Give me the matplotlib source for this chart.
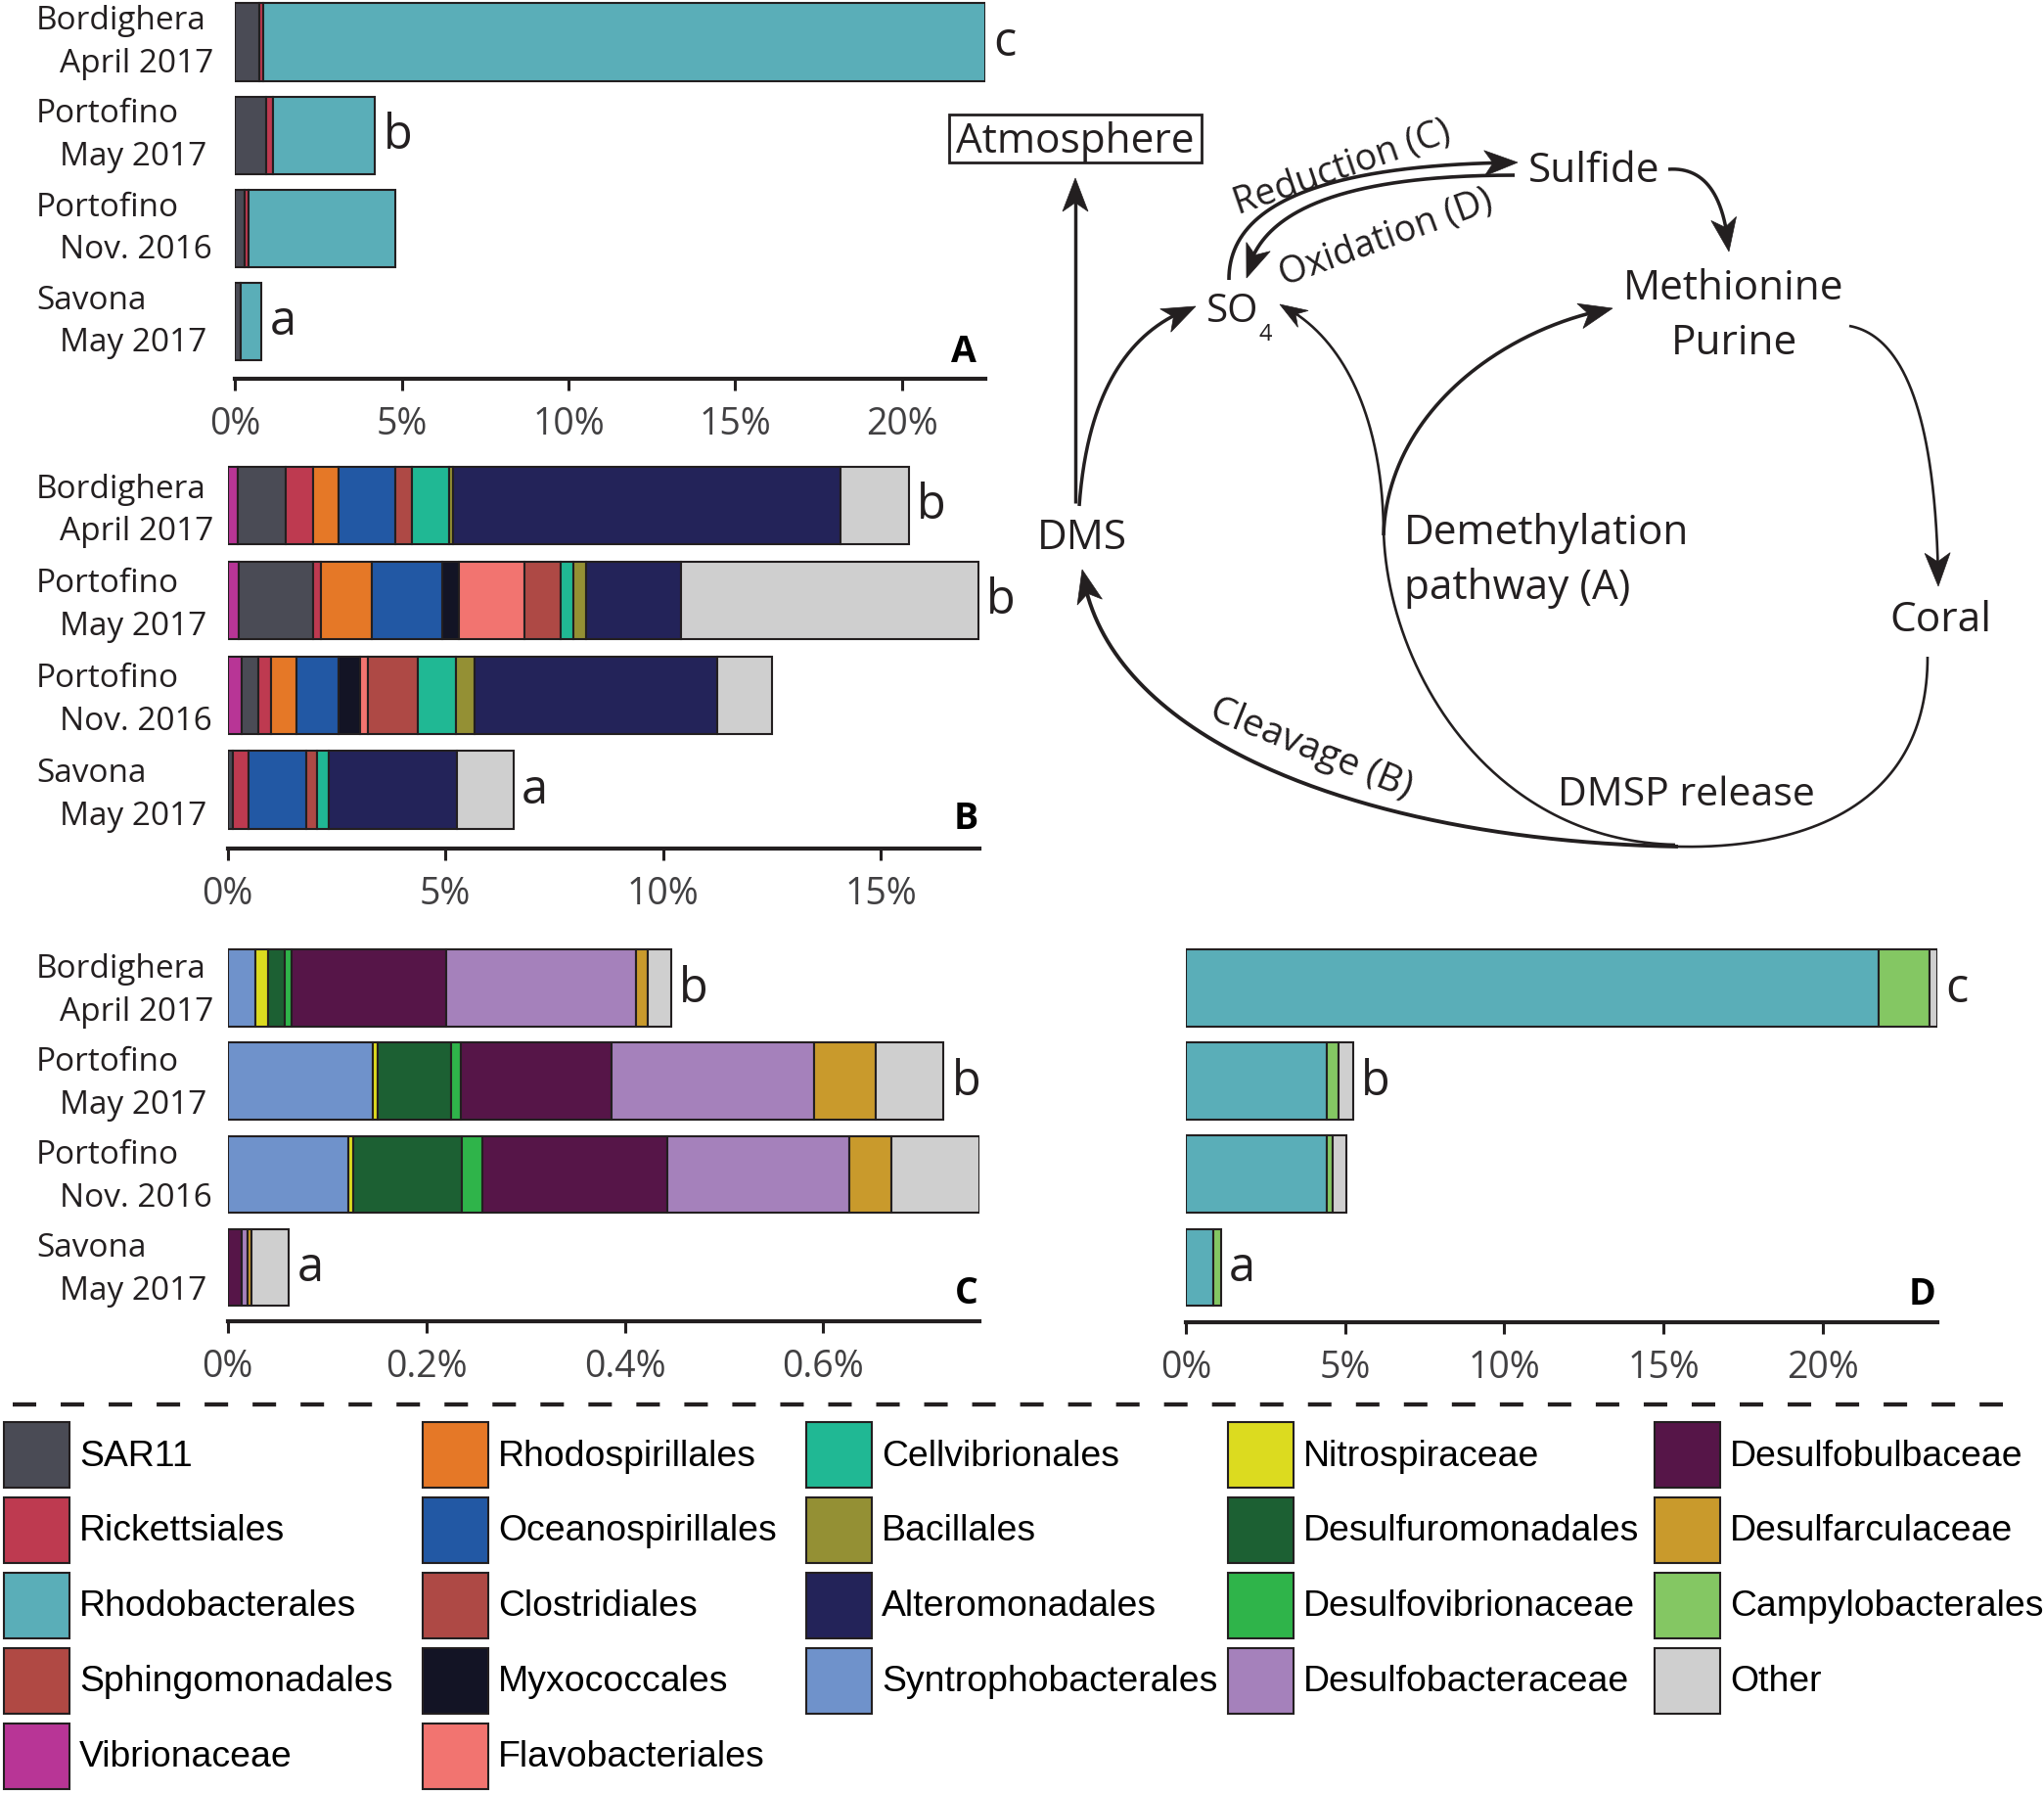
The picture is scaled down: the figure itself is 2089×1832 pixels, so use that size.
import numpy as np
import matplotlib
matplotlib.use('Agg')
import matplotlib.pyplot as plt
from matplotlib.patches import Rectangle, Polygon

W, H = 2089, 1833
K = '#231f20'
plt.rcParams['font.family'] = ['Open Sans', 'DejaVu Sans']
plt.rcParams['lines.scale_dashes'] = False

sites = ['Bordighera', 'Portofino', 'Portofino', 'Savona']
dates = ['April 2017', 'May 2017', 'Nov. 2016', 'May 2017']

colors = {
    'SAR11': '#4a4b55', 'Rickettsiales': '#be3a50', 'Rhodobacterales': '#5aaeb8',
    'Sphingomonadales': '#b04944', 'Vibrionaceae': '#b83596',
    'Rhodospirillales': '#e57827', 'Oceanospirillales': '#2258a4',
    'Clostridiales': '#ae4945', 'Myxococcales': '#131425', 'Flavobacteriales': '#f27470',
    'Cellvibrionales': '#20b894', 'Bacillales': '#949034', 'Alteromonadales': '#232359',
    'Syntrophobacterales': '#6f92cb', 'Nitrospiraceae': '#dcdb1f',
    'Desulfuromonadales': '#1c6033', 'Desulfovibrionaceae': '#2fb44a',
    'Desulfobacteraceae': '#a581bb', 'Desulfobulbaceae': '#561548',
    'Desulfarculaceae': '#c99a2c', 'Campylobacterales': '#84c763', 'Other': '#cfcfcf',
}

# A - demethylation pathway (% of reads)
a_taxa = ['SAR11', 'Rickettsiales', 'Rhodobacterales']
a_vals = [[0.72, 0.13, 21.65],
          [0.94, 0.20, 3.05],
          [0.27, 0.13, 4.39],
          [0.15, 0.00, 0.63]]
a_sig = ['c', 'b', '', 'a']

# B - cleavage pathway
b_taxa = ['Vibrionaceae', 'SAR11', 'Rickettsiales', 'Rhodospirillales', 'Oceanospirillales',
          'Myxococcales', 'Flavobacteriales', 'Clostridiales', 'Cellvibrionales',
          'Bacillales', 'Alteromonadales', 'Other']
b_vals = [[0.23, 1.10, 0.63, 0.59, 1.31, 0.00, 0.00, 0.37, 0.86, 0.09, 8.89, 1.58],
          [0.26, 1.69, 0.20, 1.17, 1.60, 0.38, 1.51, 0.83, 0.29, 0.31, 2.18, 6.82],
          [0.31, 0.40, 0.29, 0.57, 0.97, 0.49, 0.19, 1.14, 0.88, 0.42, 5.58, 1.27],
          [0.00, 0.11, 0.37, 0.00, 1.32, 0.00, 0.00, 0.25, 0.26, 0.00, 2.95, 1.30]]
b_sig = ['b', 'b', '', 'a']

# C - sulfate reduction
c_taxa = ['Syntrophobacterales', 'Nitrospiraceae', 'Desulfuromonadales', 'Desulfovibrionaceae',
          'Desulfobulbaceae', 'Desulfobacteraceae', 'Desulfarculaceae', 'Other']
c_vals = [[0.0277, 0.0125, 0.0176, 0.0061, 0.1564, 0.1912, 0.0120, 0.0232],
          [0.1464, 0.0050, 0.0735, 0.0100, 0.1514, 0.2042, 0.0624, 0.0684],
          [0.1212, 0.0056, 0.1086, 0.0211, 0.1867, 0.1831, 0.0422, 0.0885],
          [0.0, 0.0, 0.0, 0.0, 0.0141, 0.0055, 0.0040, 0.0378]]
c_sig = ['b', 'b', '', 'a']

# D - sulfide oxidation
d_taxa = ['Rhodobacterales', 'Campylobacterales', 'Other']
d_vals = [[21.74, 1.60, 0.25],
          [4.44, 0.37, 0.44],
          [4.42, 0.19, 0.44],
          [0.85, 0.25, 0.00]]
d_sig = ['c', 'b', '', 'a']

legend_cols = [
    ['SAR11', 'Rickettsiales', 'Rhodobacterales', 'Sphingomonadales', 'Vibrionaceae'],
    ['Rhodospirillales', 'Oceanospirillales', 'Clostridiales', 'Myxococcales', 'Flavobacteriales'],
    ['Cellvibrionales', 'Bacillales', 'Alteromonadales', 'Syntrophobacterales'],
    ['Nitrospiraceae', 'Desulfuromonadales', 'Desulfovibrionaceae', 'Desulfobacteraceae'],
    ['Desulfobulbaceae', 'Desulfarculaceae', 'Campylobacterales', 'Other'],
]

fig = plt.figure(figsize=(W / 100, H / 100), dpi=100)


def panel(px, ylim, bh, taxa, vals, sig, xmax, ticks, tlabels, names=True, shift=0):
    l, t, r, b = px
    ax = fig.add_axes([l / W, 1 - b / H, (r - l) / W, (b - t) / H])
    for i, row in enumerate(vals):
        left = 0
        for name, v in zip(taxa, row):
            if v > 0:
                ax.barh(i, v, left=left, height=bh, color=colors[name],
                        edgecolor=K, linewidth=1.5)
            left += v
        if sig[i]:
            ax.annotate(sig[i], xy=(left, i), xytext=(6, 0), textcoords='offset points',
                        ha='left', va='center', fontsize=35, color=K)
        if names:
            ax.annotate(sites[i], xy=(37, i), xycoords=('figure pixels', 'data'),
                        xytext=(0, 10 - shift), textcoords='offset points',
                        ha='left', va='baseline', fontsize=24, color=K)
            ax.annotate(dates[i], xy=(61, i), xycoords=('figure pixels', 'data'),
                        xytext=(0, -21.5 - shift), textcoords='offset points',
                        ha='left', va='baseline', fontsize=24, color=K)
    ax.set_xlim(0, xmax)
    ax.set_ylim(*ylim)
    for s in ['left', 'right', 'top']:
        ax.spines[s].set_visible(False)
    ax.spines['bottom'].set_linewidth(3)
    ax.spines['bottom'].set_color(K)
    ax.set_yticks([])
    ax.set_xticks(ticks)
    ax.set_xticklabels(tlabels)
    ax.tick_params(axis='x', direction='out', length=8.6, width=2.2, color=K,
                   pad=10.5, labelsize=27, labelcolor='#414042')
    ax.patch.set_visible(False)
    return ax


panel((240.4, 0, 1007, 388), (3.613, -0.462), 0.83, a_taxa, a_vals, a_sig, 22.5,
      [0, 5, 10, 15, 20], ['0%', '5%', '10%', '15%', '20%'])
panel((232.8, 473, 1001.4, 868), (3.62, -0.462), 0.817, b_taxa, b_vals, b_sig, 17.28,
      [0, 5, 10, 15], ['0%', '5%', '10%', '15%'], shift=3.5)
panel((232.8, 967, 1000.6, 1351), (3.579, -0.462), 0.83, c_taxa, c_vals, c_sig, 0.757,
      [0, 0.2, 0.4, 0.6], ['0%', '0.2%', '0.4%', '0.6%'], shift=1.5)
panel((1211.9, 967, 1979.8, 1352), (3.59, -0.462), 0.83, d_taxa, d_vals, d_sig, 23.59,
      [0, 5, 10, 15, 20], ['0%', '5%', '10%', '15%', '20%'], names=False)

# overlay in pixel coordinates for the diagram, panel letters and legend
ov = fig.add_axes([0, 0, 1, 1])
ov.set_xlim(0, W)
ov.set_ylim(H, 0)
ov.axis('off')

for txt, x, y in [('A', 998, 370), ('B', 1000, 847), ('C', 1000, 1332), ('D', 1978, 1333)]:
    ov.text(x, y, txt, ha='right', va='baseline', fontsize=27, fontweight='bold', color='black')


def bez(p, n=150):
    p = np.asarray(p, float)
    t = np.linspace(0, 1, n)[:, None]
    if len(p) == 3:
        return (1 - t) ** 2 * p[0] + 2 * (1 - t) * t * p[1] + t ** 2 * p[2]
    return ((1 - t) ** 3 * p[0] + 3 * (1 - t) ** 2 * t * p[1]
            + 3 * (1 - t) * t ** 2 * p[2] + t ** 3 * p[3])


def curve(segs, lw=2.5, head=True, L=34, hw=13):
    pts = np.vstack([bez(s) for s in segs])
    if head:
        tip = pts[-1]
        d = np.hypot(pts[:, 0] - tip[0], pts[:, 1] - tip[1])
        back = pts[d >= L][-1]
        u = (tip - back) / np.hypot(*(tip - back))
        nrm = np.array([-u[1], u[0]])
        base = tip - L * u
        ov.add_patch(Polygon([tip, base + hw * nrm, tip - (L - 9) * u, base - hw * nrm],
                             closed=True, fc=K, ec=K, lw=0.5))
        pts = pts[d >= L * 0.5]
    ov.plot(pts[:, 0], pts[:, 1], color=K, lw=lw, solid_capstyle='butt')


def label(x, y, s, fs=30.5, **kw):
    ov.text(x, y, s, ha=kw.pop('ha', 'center'), va=kw.pop('va', 'center'),
            fontsize=fs, color=K, **kw)


# Atmosphere box
ov.add_patch(Rectangle((970, 118), 258, 49, fill=False, ec=K, lw=2))
label(1099, 145, 'Atmosphere')
curve([[(1099, 515), (1099, 350), (1099, 183)]])
label(1106, 550, 'DMS')
label(1260, 319, 'SO', fs=29)
label(1293, 342, '4', fs=17)
label(1629, 175, 'Sulfide')
label(1772, 295, 'Methionine')
label(1772, 351, 'Purine')
label(1435, 556, 'Demethylation', ha='left', va='baseline')
label(1435, 612, 'pathway (A)', ha='left', va='baseline')
label(1983, 634, 'Coral')
label(1723, 813, 'DMSP release', fs=29.5)
label(1372, 172, 'Reduction (C)', fs=27, rotation=19, rotation_mode='anchor')
label(1416, 243, 'Oxidation (D)', fs=27, rotation=20, rotation_mode='anchor')
label(1340, 766, 'Cleavage (B)', fs=28, rotation=-22, rotation_mode='anchor')

# DMS -> SO4
curve([[(1103, 518), (1115, 350), (1222, 314)]])
# SO4 -> Sulfide (reduction) and back (oxidation)
curve([[(1256, 287), (1255, 170), (1551, 167)]], lw=2.6)
curve([[(1548, 180), (1290, 180), (1274, 285)]], lw=2.6)
# Sulfide -> Methionine
curve([[(1705, 174), (1760, 170), (1767, 258)]])
# demethylation -> SO4
curve([[(1712, 864), (1520, 860), (1416, 680), (1414, 540)],
       [(1414, 540), (1412, 430), (1375, 345), (1308, 312)]], lw=1.9, L=28, hw=10)
# demethylation -> Methionine/Purine
curve([[(1414, 548), (1418, 420), (1540, 335), (1648, 316)]], lw=2.6)
# Methionine -> Coral
curve([[(1890, 334), (1978, 350), (1981, 600)]], lw=1.9)
# Coral -> DMSP release -> DMS (cleavage)
curve([[(1970, 672), (1970, 850), (1800, 868), (1715, 866)]], lw=1.9, head=False)
curve([[(1715, 866), (1400, 860), (1130, 760), (1106, 583)]], lw=2.8)

# dashed separator and legend
ov.plot([13, 2047], [1436, 1436], color=K, lw=3.1, dashes=(17.3, 18))
col_x = [4, 432, 824, 1255, 1691]
row_y = [1454, 1531, 1608, 1685, 1762]
for cx, names in zip(col_x, legend_cols):
    for ry, name in zip(row_y, names):
        ov.add_patch(Rectangle((cx, ry), 67, 67, fc=colors[name], ec=K, lw=1.5))
        ov.text(cx + 77, ry + 34, name, ha='left', va='center', fontsize=26.9,
                family='Liberation Sans', color='black')

fig.savefig('out.png', dpi=100)
